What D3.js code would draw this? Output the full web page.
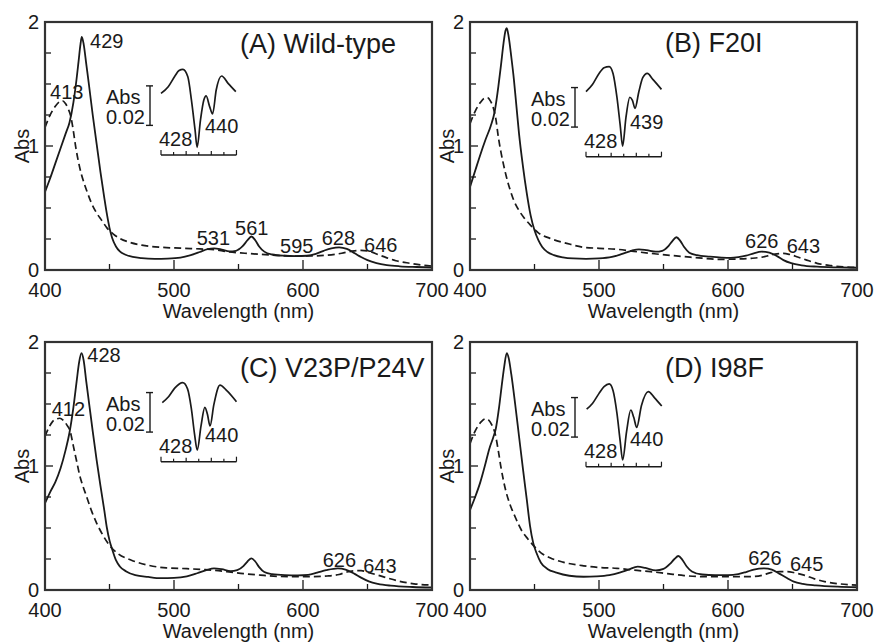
<!DOCTYPE html>
<html><head><meta charset="utf-8">
<script src="https://cdn.jsdelivr.net/npm/d3@7"></script>
<style>
body{margin:0;background:#fff}
svg{display:block}
text{font-family:"Liberation Sans",Arial,Helvetica,sans-serif;fill:#1a1a1a}
</style>
</head><body>
<svg id="c" width="874" height="644"></svg>
<script>
// ---------------- DATA ----------------
const titles = ["(A) Wild-type", "(B) F20I", "(C) V23P/P24V", "(D) I98F"];
const xTickLabels = [400, 500, 600, 700];
const xMinorTicks = [450, 550, 650];
const yTickLabels = [0, 1, 2];
const yMinorStep = 0.25;

const solidA = [[400,0.63],[404,0.74],[408,0.86],[412,0.98],[416,1.10],[419,1.19],[422,1.35],[424,1.50],[426,1.68],[427.5,1.82],[428.5,1.88],[430,1.82],[432,1.66],[434,1.50],[437,1.25],[440,1.02],[443,0.79],[446,0.58],[448,0.45],[450,0.34],[452,0.26],[455,0.19],[458,0.15],[462,0.125],[468,0.105],[475,0.095],[485,0.09],[495,0.092],[505,0.10],[513,0.12],[520,0.145],[526,0.168],[531,0.175],[537,0.165],[543,0.15],[548,0.155],[553,0.19],[557,0.24],[560,0.27],[563,0.24],[566,0.19],[570,0.148],[576,0.125],[585,0.115],[595,0.112],[603,0.115],[610,0.13],[616,0.155],[622,0.175],[628,0.183],[634,0.17],[640,0.135],[645,0.105],[650,0.08],[657,0.056],[665,0.04],[675,0.03],[688,0.024],[700,0.02]];
const dashedA = [[400,1.15],[404,1.25],[408,1.32],[411,1.355],[413.5,1.365],[416,1.34],[418,1.30],[420,1.24],[422,1.12],[424,0.98],[426,0.87],[428,0.78],[430,0.71],[433,0.62],[436,0.54],[440,0.46],[444,0.40],[448,0.34],[453,0.29],[458,0.255],[465,0.225],[475,0.20],[490,0.183],[505,0.176],[520,0.17],[531,0.165],[541,0.148],[555,0.135],[567,0.126],[580,0.118],[593,0.113],[605,0.113],[619,0.12],[630,0.135],[638,0.152],[645,0.158],[651,0.152],[658,0.125],[665,0.098],[672,0.075],[683,0.054],[692,0.04],[700,0.032]];
const insetA = [[400,0.0312],[405.6,0.0346],[410.8,0.0400],[414,0.0428],[417,0.0434],[420.8,0.0396],[423.6,0.0278],[426.4,0.0127],[428,0.0039],[430.6,0.0177],[433.2,0.0278],[435,0.0299],[437.7,0.0245],[440,0.0208],[442.8,0.0329],[447,0.0400],[452,0.0363],[458,0.0321]];
const peaksA = [["429",434.9,1.79],["413",403.9,1.38],["531",517.6,0.20],["561",547.3,0.28],["595",582.2,0.14],["628",614.5,0.20],["646",647.3,0.148]];
const insetLabelsA = ["428", "440"];

const solidB = [[400,0.67],[404,0.80],[408,0.93],[412,1.05],[416,1.16],[419,1.27],[422,1.48],[424,1.65],[426,1.83],[427.5,1.93],[428.5,1.95],[430,1.88],[432,1.72],[434,1.54],[436,1.32],[438,1.10],[441,0.84],[444,0.62],[447,0.44],[450,0.32],[453,0.24],[456,0.185],[460,0.145],[465,0.12],[472,0.102],[480,0.093],[490,0.09],[500,0.093],[510,0.105],[518,0.13],[525,0.155],[531,0.167],[537,0.16],[544,0.148],[549,0.155],[554,0.195],[557,0.235],[560,0.264],[563,0.235],[566,0.185],[570,0.14],[576,0.12],[586,0.108],[595,0.10],[602,0.097],[608,0.103],[614,0.115],[620,0.135],[626,0.148],[632,0.14],[638,0.112],[643,0.08],[649,0.055],[657,0.038],[669,0.027],[685,0.021],[700,0.018]];
const dashedB = [[400,1.18],[404,1.28],[408,1.35],[411,1.385],[413.5,1.39],[416,1.36],[418,1.31],[420,1.22],[422,1.07],[424,0.95],[426,0.85],[428,0.76],[431,0.65],[434,0.56],[438,0.48],[442,0.42],[447,0.36],[453,0.30],[462,0.255],[475,0.215],[488,0.183],[500,0.175],[514,0.167],[527,0.15],[540,0.134],[553,0.12],[566,0.108],[580,0.095],[592,0.086],[605,0.088],[618,0.094],[627,0.105],[633,0.12],[638,0.13],[643,0.134],[648,0.125],[654,0.105],[661,0.08],[669,0.054],[680,0.035],[690,0.025],[700,0.02]];
const insetB = [[400,0.0329],[405,0.0365],[410,0.0420],[414,0.0450],[418,0.0456],[421,0.0420],[424,0.0300],[426.5,0.0160],[428.4,0.0054],[431,0.0200],[434,0.0301],[436,0.0285],[438,0.0245],[441,0.0330],[444,0.0400],[447.5,0.0422],[452,0.0390],[458.5,0.0341]];
const peaksB = [["626",613.2,0.177],["643",645.5,0.14]];
const insetLabelsB = ["428", "439"];

const solidC = [[400,0.70],[404,0.79],[408,0.87],[412,0.98],[416,1.13],[419,1.27],[422,1.47],[424.5,1.68],[426.5,1.84],[428.3,1.91],[430,1.85],[432,1.68],[434,1.52],[437,1.28],[440,1.05],[443,0.84],[446,0.64],[448,0.50],[450,0.40],[452,0.33],[455,0.24],[458,0.19],[463,0.15],[470,0.12],[480,0.105],[490,0.095],[500,0.097],[510,0.11],[518,0.135],[525,0.16],[531,0.175],[537,0.168],[544,0.152],[549,0.16],[554,0.195],[557,0.23],[560,0.255],[563,0.23],[566,0.185],[570,0.145],[576,0.128],[586,0.12],[596,0.118],[604,0.122],[611,0.14],[618,0.16],[627,0.175],[633,0.165],[640,0.13],[645,0.10],[651,0.07],[658,0.05],[668,0.035],[685,0.024],[700,0.02]];
const dashedC = [[400,1.24],[403,1.31],[406,1.36],[409,1.38],[411.5,1.385],[414,1.37],[417,1.33],[419.5,1.28],[422,1.16],[424.5,1.04],[427,0.92],[429,0.85],[432,0.76],[436,0.64],[440,0.54],[445,0.44],[450,0.36],[457,0.29],[467,0.24],[480,0.20],[494,0.178],[510,0.172],[522,0.165],[532,0.158],[541,0.148],[554,0.132],[567,0.12],[580,0.11],[593,0.107],[606,0.108],[619,0.113],[628,0.125],[634,0.145],[640,0.155],[645,0.156],[651,0.14],[658,0.12],[666,0.095],[675,0.07],[686,0.05],[700,0.04]];
const insetC = [[401,0.0299],[406,0.0330],[411,0.0375],[416.8,0.0400],[420.5,0.0370],[423.5,0.0270],[426,0.0140],[428.1,0.0059],[431,0.0180],[434,0.0275],[436,0.0240],[438,0.0181],[441,0.0290],[445.7,0.0388],[451,0.0360],[458.5,0.0304]];
const peaksC = [["428",432.8,1.84],["412",405.2,1.40],["626",615.3,0.188],["643",646.7,0.14]];
const insetLabelsC = ["428", "440"];

const solidD = [[400,0.645],[404,0.75],[408,0.87],[412,1.02],[415,1.14],[418,1.23],[420,1.30],[422.5,1.47],[424.5,1.64],[426.5,1.80],[428.5,1.91],[430,1.87],[432,1.74],[435,1.50],[438,1.24],[441,0.98],[444,0.73],[446.5,0.52],[449,0.38],[451.5,0.30],[455,0.22],[460,0.17],[467,0.14],[477,0.115],[488,0.107],[498,0.11],[508,0.12],[516,0.14],[523,0.165],[530,0.188],[536,0.178],[544,0.158],[550,0.17],[555,0.21],[558.5,0.25],[561.5,0.274],[564.5,0.245],[568,0.19],[572,0.15],[580,0.125],[590,0.12],[600,0.12],[608,0.128],[614,0.145],[620,0.165],[628,0.175],[634,0.165],[640,0.13],[646,0.095],[651,0.068],[658,0.05],[668,0.038],[685,0.027],[700,0.022]];
const dashedD = [[400,1.18],[403,1.26],[406,1.32],[409,1.36],[412,1.38],[414.5,1.37],[417,1.33],[419.5,1.26],[422,1.12],[424,0.99],[426,0.88],[428,0.79],[431,0.69],[435,0.59],[440,0.48],[445,0.41],[450,0.35],[455,0.30],[462,0.26],[472,0.225],[488,0.195],[500,0.182],[514,0.175],[527,0.16],[540,0.148],[553,0.132],[566,0.116],[579,0.108],[592,0.107],[605,0.107],[618,0.108],[627,0.12],[633,0.14],[640,0.148],[646,0.148],[652,0.138],[659,0.12],[667,0.09],[675,0.067],[686,0.05],[700,0.04]];
const insetD = [[400.5,0.0291],[405,0.0320],[410,0.0370],[414,0.0405],[418,0.0419],[421,0.0385],[424,0.0270],[426.5,0.0130],[428.4,0.0034],[431.5,0.0180],[434.7,0.0287],[437,0.0250],[439.3,0.0199],[443,0.0310],[448.3,0.0380],[453,0.0350],[458.7,0.0307]];
const peaksD = [["626",615.7,0.20],["645",648,0.155]];
const insetLabelsD = ["428", "440"];

const insetBarValues = [0.015, 0.035];   // 0.02 Abs scale bar
const insetBarLabels = ["Abs", "0.02"];

// ---------------- LAYOUT ----------------
const W = 387, H = 248;
const layout = [
  {left:45,  top:22,  titleY:31,   insetAxis:133,   lbl2dy:-22},
  {left:470, top:22,  titleY:30,   insetAxis:134.7, lbl2dy:-28},
  {left:45,  top:342, titleY:34.7, insetAxis:119.7, lbl2dy:-20},
  {left:470, top:342, titleY:34.7, insetAxis:124.7, lbl2dy:-21}
];
const panelData = [
  {solid:solidA, dashed:dashedA, inset:insetA, peaks:peaksA, il:insetLabelsA},
  {solid:solidB, dashed:dashedB, inset:insetB, peaks:peaksB, il:insetLabelsB},
  {solid:solidC, dashed:dashedC, inset:insetC, peaks:peaksC, il:insetLabelsC},
  {solid:solidD, dashed:dashedD, inset:insetD, peaks:peaksD, il:insetLabelsD}
];

const svg = d3.select("#c");
const x = d3.scaleLinear().domain([400,700]).range([0,W]);
const y = d3.scaleLinear().domain([0,2]).range([H,0]);
const ink = "#1a1a1a";
const line = d3.line().x(d=>x(d[0])).y(d=>y(d[1])).curve(d3.curveMonotoneX);

panelData.forEach((pd,i)=>{
  const L = layout[i];
  const g = svg.append("g").attr("transform",`translate(${L.left},${L.top})`);

  // ticks (inward)
  const yt = d3.range(0, 2.0001, yMinorStep);
  g.selectAll(".yt").data(yt).join("line")
    .attr("x1",0).attr("x2",d=> (d%1===0)?8:6)
    .attr("y1",d=>y(d)).attr("y2",d=>y(d))
    .attr("stroke",ink).attr("stroke-width",1.3);
  g.selectAll(".xt").data(xTickLabels.concat(xMinorTicks)).join("line")
    .attr("x1",d=>x(d)).attr("x2",d=>x(d))
    .attr("y1",H).attr("y2",d=> H - (xTickLabels.includes(d)?10:6))
    .attr("stroke",ink).attr("stroke-width",1.3);

  // curves
  g.append("path").datum(pd.dashed).attr("d",line)
    .attr("fill","none").attr("stroke",ink).attr("stroke-width",1.7)
    .attr("stroke-dasharray","7,4");
  g.append("path").datum(pd.solid).attr("d",line)
    .attr("fill","none").attr("stroke",ink).attr("stroke-width",1.8);

  // frame
  g.append("rect").attr("x",0).attr("y",0).attr("width",W).attr("height",H)
    .attr("fill","none").attr("stroke","#333").attr("stroke-width",2.2);

  // tick labels
  g.selectAll(".yl").data(yTickLabels).join("text")
    .attr("x",-6).attr("y",d=>y(d)).attr("dy","0.36em")
    .attr("text-anchor","end").attr("font-size",20).text(d=>d);
  g.selectAll(".xl").data(xTickLabels).join("text")
    .attr("x",d=>x(d)).attr("y",H+27)
    .attr("text-anchor","middle").attr("font-size",20).text(d=>d);

  // axis titles
  g.append("text").attr("x",W/2).attr("y",H+48).attr("text-anchor","middle")
    .attr("font-size",20).text("Wavelength (nm)");
  g.append("text").attr("transform",`translate(-16,${H/2}) rotate(-90)`)
    .attr("text-anchor","middle").attr("font-size",20).text("Abs");

  // title
  g.append("text").attr("x",195).attr("y",L.titleY).attr("font-size",27).text(titles[i]);

  // peak labels
  g.selectAll(".pk").data(pd.peaks).join("text")
    .attr("x",d=>x(d[1])).attr("y",d=>y(d[2]))
    .attr("font-size",20).text(d=>d[0]);

  // inset
  const ix = d3.scaleLinear().domain([400,458.5]).range([116, 116+58.5*1.29]);
  const iy = d3.scaleLinear().domain([0,0.02]).range([L.insetAxis, L.insetAxis-39.5]);
  const iline = d3.line().x(d=>ix(d[0])).y(d=>iy(d[1])).curve(d3.curveMonotoneX);
  g.append("path").datum(pd.inset).attr("d",iline)
    .attr("fill","none").attr("stroke",ink).attr("stroke-width",1.7);
  g.append("line").attr("x1",ix(400)).attr("x2",ix(458.5))
    .attr("y1",iy(0)).attr("y2",iy(0)).attr("stroke",ink).attr("stroke-width",1.4);
  const its = d3.range(7).map(k=>400+k*58.5/6);
  g.selectAll(".it").data(its).join("line")
    .attr("x1",d=>ix(d)).attr("x2",d=>ix(d))
    .attr("y1",iy(0)).attr("y2",(d,k)=> iy(0) - ((k===0||k===6)?5:(k%2?3:4)))
    .attr("stroke",ink).attr("stroke-width",1.2);
  // scale bar
  const bx = 105;
  g.append("line").attr("x1",bx).attr("x2",bx)
    .attr("y1",iy(insetBarValues[0])).attr("y2",iy(insetBarValues[1]))
    .attr("stroke",ink).attr("stroke-width",1.4);
  insetBarValues.forEach(v=>{
    g.append("line").attr("x1",bx-4).attr("x2",bx+3)
      .attr("y1",iy(v)).attr("y2",iy(v)).attr("stroke",ink).attr("stroke-width",1.4);
  });
  g.append("text").attr("x",61).attr("y",L.insetAxis-51).attr("font-size",20).text(insetBarLabels[0]);
  g.append("text").attr("x",61).attr("y",L.insetAxis-31).attr("font-size",20).text(insetBarLabels[1]);
  g.append("text").attr("x",114).attr("y",L.insetAxis-9).attr("font-size",20).text(pd.il[0]);
  g.append("text").attr("x",160).attr("y",L.insetAxis+L.lbl2dy).attr("font-size",20).text(pd.il[1]);
});
</script>
</body></html>
